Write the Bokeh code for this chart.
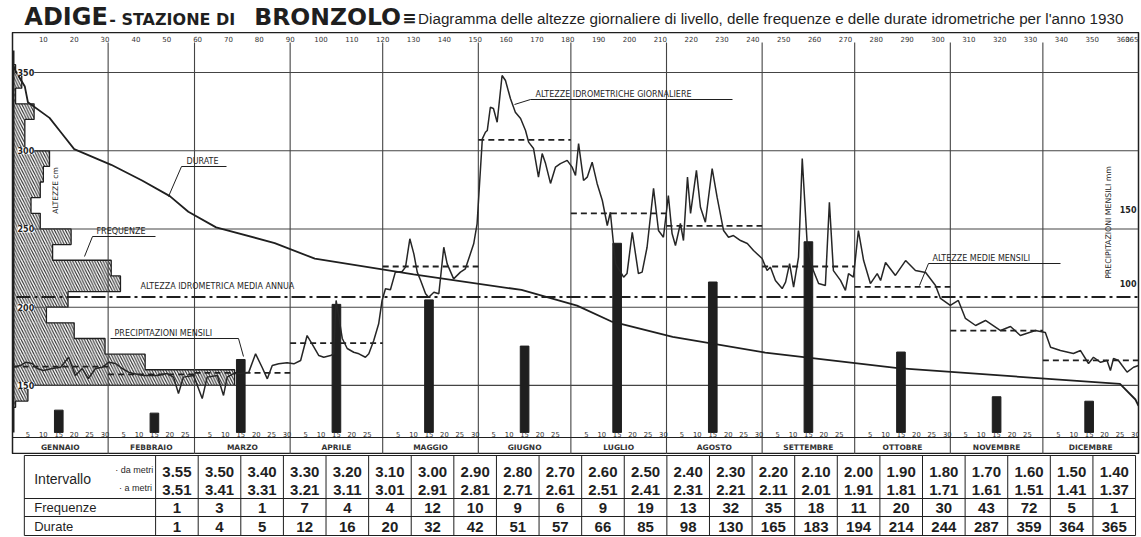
import numpy as np
from bokeh.plotting import figure
from bokeh.models import Range1d
from bokeh.layouts import column
from bokeh.core.properties import value
from bokeh.embed import file_html
from bokeh.resources import INLINE

# ---------------- data ----------------
MONTHS = ["GENNAIO", "FEBBRAIO", "MARZO", "APRILE", "MAGGIO", "GIUGNO",
          "LUGLIO", "AGOSTO", "SETTEMBRE", "OTTOBRE", "NOVEMBRE", "DICEMBRE"]
MONTH_START = [0, 31, 59, 90, 120, 151, 181, 212, 243, 273, 304, 334]
MONTH_LEN = [31, 28, 31, 30, 31, 30, 31, 31, 30, 31, 30, 31]

PRECIP_MM = [15, 13, 49, 86, 89, 58, 127, 101, 128, 54, 24, 21]
MONTH_MEAN_CM = [162, 157, 158, 177, 226, 307, 260, 252, 226, 213, 185, 166]
ANNUAL_MEAN_CM = 206.5

DA_METRI = ["3.55", "3.50", "3.40", "3.30", "3.20", "3.10", "3.00", "2.90", "2.80", "2.70", "2.60", "2.50",
            "2.40", "2.30", "2.20", "2.10", "2.00", "1.90", "1.80", "1.70", "1.60", "1.50", "1.40"]
A_METRI = ["3.51", "3.41", "3.31", "3.21", "3.11", "3.01", "2.91", "2.81", "2.71", "2.61", "2.51", "2.41",
           "2.31", "2.21", "2.11", "2.01", "1.91", "1.81", "1.71", "1.61", "1.51", "1.41", "1.37"]
FREQUENZE = [1, 3, 1, 7, 4, 4, 12, 10, 9, 6, 9, 19, 13, 32, 35, 18, 11, 20, 30, 43, 72, 5, 1]
DURATE = [1, 4, 5, 12, 16, 20, 32, 42, 51, 57, 66, 85, 98, 130, 165, 183, 194, 214, 244, 287, 359, 364, 365]

DAY_PTS = [0, 2.6, 4.2, 6.4, 8, 10, 12.9, 15.6, 18.2, 20.4, 22.6, 24.6, 26.9, 29.1, 31.2, 33.4, 35.6, 37.6, 39.2, 42.5,
           46.9, 50.1, 52.2, 53.8, 55.4, 58.7, 61.5, 63.1, 66.4, 68.4, 69.6, 71.6, 73.9,
           76.6, 78.8, 80.9, 82.6, 84.2, 86.3, 89, 91.2, 93.4, 95.5, 97.1, 99.3, 100.9, 103.1, 104.1, 104.9, 106.9, 108.5,
           110.6, 112.3, 114.4, 115.5, 117.1, 118.7, 119.8, 120.9, 122.5, 124.1, 126.3, 127.4, 128.8, 130.1, 131.2, 132.3,
           133.9, 134.9, 136.6, 138.2, 139.8, 140.9, 143, 145.2, 146.8, 149.5, 150.6,
           151.2, 152.3, 153.3, 153.9, 154.9, 155.9, 157.1, 158.7, 159.8, 161.4, 163, 164.7, 166.3, 167.3, 168.9, 170.5,
           171.7, 172.8, 174.4, 176, 177.6, 179.8, 181.4, 182.5, 183.5, 185.1, 186.3, 187.9, 189.5, 191.2, 192.8, 193.8,
           194.8, 195.5, 198.1, 199.2, 200.9, 202.9, 204.1, 205.7, 207.8, 209.4, 211, 212.6, 213.8, 214.9, 216.5, 217.5,
           218.8, 219.8, 221.7, 223, 224.6, 226.8, 228.4, 230.5, 232.1, 233.7, 236, 238.2, 240.2, 243, 244.6, 245.7,
           247.3, 249.5, 250.6, 251.9, 253.2, 254.8, 256, 257.6, 259.6, 261.3, 263.5, 264.8, 266.1, 268.4, 270, 271,
           272.6, 274.2, 275.9, 278.1, 280.3, 281.4,
           283, 286.2, 289.5, 292.7, 296, 299.2, 300.8, 304, 306.6, 308.9, 312.2, 315.4, 320.3, 323.5, 326.7, 331.6,
           334.8, 336.5, 339.7, 343.9, 346.2, 348.8, 350.4, 352.7, 354.8, 355.9, 356.9, 358.5, 359.7, 361.3, 363.4, 365]
LEVEL_CM = [161.6, 162.7, 164.8, 164, 160.8, 159.5, 160.8, 161.6, 168, 156.3, 160.8, 154.4, 160.8, 161.6, 164.8, 164,
            160.8, 158.5, 157.6, 156.3, 156.3, 157.6, 155.3, 144.8, 155.3, 156.3, 141.6, 155.3, 156.3, 143.6, 155.3,
            157.6, 157.6,
            158.5, 170.2, 161.6, 154.2, 162.7, 163.8, 164.5, 163.8, 165.9, 181.9, 176.6, 169.1, 168, 169.1, 170.2, 204.3,
            180, 173.6, 171.2, 170.2, 168, 170.2, 178.7, 189.4, 204.3, 211.8, 211.1, 222.4, 222.8, 225.6, 243.7, 234.1,
            222.4, 217.1, 208.6, 206.4, 209.6, 208.6, 238.3, 227.7, 218.1, 222.4, 224.5, 240.5, 253.3,
            272.5, 307.6, 311.8, 312.9, 327.8, 327, 318.2, 348.1, 344.9, 333.4, 324.6, 320.6, 312.9, 305.5, 301.4, 283.1,
            298.2, 291.8, 279.1, 289.5, 291.8, 293.8, 289.5, 284.2, 304.6, 281, 283.1, 292.7, 279.1, 268.2, 252.2, 260.7,
            240.7, 227.9, 219.2, 221.5, 247.9, 221.5, 222.4, 238.3, 275.9, 249, 244.7, 271.4, 247.1, 239.4, 253.5, 242.6,
            283.1, 259.9, 287.4, 263.9, 254.3, 288.6, 270.3, 249, 244.7, 245.8, 242.6, 240.7, 236.2, 231.1, 223.4, 225.6,
            217.1, 211.9, 216, 227.9, 212.8, 232, 295, 240.7, 223.4, 215.1, 213.9, 267.1, 223.4, 217.1, 210.7, 221.5,
            219.2, 249, 229.8, 215.1, 221.5, 217.1,
            228.6, 220.3, 229.8, 223.4, 222.2, 213.9, 205.6, 201.1, 204.3, 192.8, 188.3, 191.5, 185.1, 187.7, 181.9,
            185.1, 183.8, 174.4, 172.3, 170.4, 172.3, 164, 168, 164.8, 165.9, 159.5, 167.2, 165.9, 162.7, 158.5, 161.6,
            162.7]

TOP_TICKS = [10, 20, 30, 40, 50, 60, 70, 80, 90, 100, 110, 120, 130, 140, 150, 160, 170, 180, 190, 200,
             210, 220, 230, 240, 250, 260, 270, 280, 290, 300, 310, 320, 330, 340, 350, 360]
LEFT_TICKS = [350, 300, 250, 200, 150]
RIGHT_TICKS = [150, 100]

TITLE_RIVER = "ADIGE"
TITLE_STATION_A = "- STAZIONE DI"
TITLE_STATION_B = "BRONZOLO"
SUBTITLE = "Diagramma delle altezze giornaliere di livello, delle frequenze e delle durate idrometriche per l'anno 1930"

# ---------------- layout helpers (page pixels -> chart coordinates) ----------------
INK = "#1f1f1f"
SANS = "DejaVu Sans"
ARIAL = "Liberation Sans"
PXD = 1126 / 365.0          # pixels per day
PXC = 1.5646                # pixels per cm
PXM = 1.49                  # pixels per mm of rain
W = 1141


def dx(px):
    return (px - 12) / PXD


def lv(py):
    return 350 - (py - 72) / PXC


def mm(py):
    return (432 - py) / PXM


def T(fig, xs, ys, texts, size, font=SANS, align="left", baseline="middle", angle=0.0,
      style="normal", color=INK, **kw):
    fig.text(x=list(xs), y=list(ys), text=list(texts), text_font=value(font), text_font_size=size,
             text_align=align, text_baseline=baseline, angle=angle, text_font_style=style,
             text_color=color, **kw)


# ---------------- header ----------------
h = figure(width=W, height=32, x_range=Range1d(0, W), y_range=Range1d(32, 0),
           x_axis_type=None, y_axis_type=None, toolbar_location=None, output_backend="svg",
           min_border=0)
h.grid.visible = False
h.outline_line_color = None
T(h, [12], [16], [TITLE_RIVER], "24px", style="bold")
T(h, [98], [18.5], [TITLE_STATION_A], "16px", style="bold")
T(h, [245], [16], [TITLE_STATION_B], "23.5px", style="bold")
T(h, [395], [17], ["\u2261"], "17px", style="bold")
T(h, [411], [17.5], [SUBTITLE], "15.2px", font=ARIAL)

# ---------------- main chart ----------------
p = figure(width=W, height=422, x_range=Range1d(0, 365), y_range=Range1d(lv(454), lv(32)),
           x_axis_type=None, y_axis_type=None, toolbar_location=None, output_backend="svg",
           min_border_left=12, min_border_right=3, min_border_top=0, min_border_bottom=0)
p.extra_y_ranges = {"mm": Range1d(mm(454), mm(32))}
p.grid.visible = False
p.outline_line_color = INK
p.outline_line_width = 1.5
p.background_fill_color = "white"

# frequency histogram (hatched, same horizontal scale as days)
tops = [float(v) * 100 for v in DA_METRI]
bots = [float(v) * 100 - 1 for v in A_METRI]
p.quad(left=0, right=FREQUENZE, bottom=bots, top=tops, fill_alpha=0, line_color=None,
       hatch_pattern="left_diagonal_line", hatch_color="#2b2b2b", hatch_scale=5.5, hatch_weight=1.1)
sx, sy = [0], [tops[0]]
for f, t_, b in zip(FREQUENZE, tops, bots):
    sx += [f, f]
    sy += [t_, b]
sx.append(0)
sy.append(bots[-1])
p.line(sx, sy, line_color=INK, line_width=1.3)

# grid
p.segment(x0=dx(28), x1=365, y0=LEFT_TICKS, y1=LEFT_TICKS, line_color="#444", line_width=1.1)
month_ends = [s + l for s, l in zip(MONTH_START, MONTH_LEN)][:-1]
p.segment(x0=month_ends, x1=month_ends, y0=lv(42), y1=lv(454), line_color="#444", line_width=1.1)
p.segment(x0=[0], x1=[365], y0=[lv(437)], y1=[lv(437)], line_color=INK, line_width=1.2)
p.segment(x0=[0], x1=[0], y0=[lv(50)], y1=[lv(432)], line_color=INK, line_width=4)

# annual mean level (dash-dot)
p.segment(x0=[dx(16)], x1=[365], y0=[ANNUAL_MEAN_CM], y1=[ANNUAL_MEAN_CM], line_color=INK,
          line_width=1.8, line_dash="14 4 3 4")

# monthly means (dashed)
p.segment(x0=MONTH_START, x1=[s + l for s, l in zip(MONTH_START, MONTH_LEN)], y0=MONTH_MEAN_CM,
          y1=MONTH_MEAN_CM, line_color=INK, line_width=1.8, line_dash="6 4")

# monthly precipitation bars
p.vbar(x=[s + 15 for s in MONTH_START], top=PRECIP_MM, bottom=0, width=2.8, fill_color=INK,
       line_color=INK, y_range_name="mm")

# duration curve
p.line([0] + DURATE, [float(DA_METRI[0]) * 100] + [float(v) * 100 for v in A_METRI],
       line_color=INK, line_width=1.8)

# daily levels
p.line(DAY_PTS, LEVEL_CM, line_color="#262626", line_width=1.5)

# top day-of-year labels
T(p, TOP_TICKS, [lv(38)] * len(TOP_TICKS), [str(v) for v in TOP_TICKS], "7px", align="center",
  color="#333")
T(p, [365], [lv(38)], ["365"], "7px", align="right", color="#333")

# left level labels
T(p, [dx(17)] * len(LEFT_TICKS), LEFT_TICKS, [str(v) for v in LEFT_TICKS], "8px", style="bold",
  background_fill_color="white")
# right precipitation labels
T(p, [dx(1136)] * len(RIGHT_TICKS), RIGHT_TICKS, [str(v) for v in RIGHT_TICKS], "8px", align="right",
  style="bold", y_range_name="mm")

# rotated axis titles
T(p, [dx(55)], [lv(190)], ["ALTEZZE cm"], "7.5px", align="center", angle=np.pi / 2)
T(p, [dx(1108)], [lv(222)], ["PRECIPITAZIONI MENSILI mm"], "7.8px", align="center", angle=np.pi / 2)

# annotations with leader lines
notes = [
    ("ALTEZZE IDROMETRICHE GIORNALIERE", 535, 94, 530, 732, [(530, 99), (514, 104)]),
    ("DURATE", 186, 161, 181, 226, [(181, 166), (168, 196)]),
    ("FREQUENZE", 96, 231, 92, 155, [(92, 236), (84, 256)]),
    ("PRECIPITAZIONI MENSILI", 114, 333, 110, 238, [(238, 338), (243, 356)]),
    ("ALTEZZE MEDIE MENSILI", 932, 258, 928, 1060, [(928, 263), (919, 285)]),
]
for text, tx, ty, ul0, ul1, lead in notes:
    T(p, [dx(tx)], [lv(ty)], [text], "8px")
    uy = lead[0][1]
    p.segment(x0=[dx(ul0)], x1=[dx(ul1)], y0=[lv(uy)], y1=[lv(uy)], line_color=INK, line_width=1)
    p.segment(x0=[dx(lead[0][0])], x1=[dx(lead[1][0])], y0=[lv(lead[0][1])], y1=[lv(lead[1][1])],
              line_color=INK, line_width=1)
T(p, [dx(140)], [lv(286)], ["ALTEZZA IDROMETRICA MEDIA ANNUA"], "8px")

# bottom strip: day-of-month ticks and month names
dl_x, dl_t = [], []
for s, l in zip(MONTH_START, MONTH_LEN):
    for d in (5, 10, 15, 20, 25, 30):
        if d < l:
            dl_x.append(s + d)
            dl_t.append(str(d))
T(p, dl_x, [lv(434)] * len(dl_x), dl_t, "6.8px", align="center", color="#333")
T(p, [s + l / 2 for s, l in zip(MONTH_START, MONTH_LEN)], [lv(447)] * 12, MONTHS, "7.5px",
  align="center", style="bold", color="#333")

# ---------------- table ----------------
t = figure(width=W, height=82, x_range=Range1d(0, W), y_range=Range1d(536, 454),
           x_axis_type=None, y_axis_type=None, toolbar_location=None, output_backend="svg",
           min_border=0)
t.grid.visible = False
t.outline_line_color = None
cb = list(np.linspace(145, 1138, len(DA_METRI) + 1))
cc = [(a + b) / 2 for a, b in zip(cb[:-1], cb[1:])]
t.segment(x0=[12, 12, 12, 12], x1=[1138] * 4, y0=[455, 498, 516, 535], y1=[455, 498, 516, 535],
          line_color=INK, line_width=1.2)
t.segment(x0=[12] + cb, x1=[12] + cb, y0=455, y1=535, line_color=INK, line_width=1)
T(t, cc, [471] * len(cc), DA_METRI, "15px", font=ARIAL, align="center", style="bold")
T(t, cc, [489] * len(cc), A_METRI, "15px", font=ARIAL, align="center", style="bold")
T(t, cc, [507] * len(cc), [str(v) for v in FREQUENZE], "15px", font=ARIAL, align="center", style="bold")
T(t, cc, [526] * len(cc), [str(v) for v in DURATE], "15px", font=ARIAL, align="center", style="bold")
T(t, [22], [478], ["Intervallo"], "14px", font=ARIAL)
T(t, [104], [469], ["\u00b7 da metri"], "9px", font=ARIAL)
T(t, [108], [487], ["\u00b7 a metri"], "9px", font=ARIAL)
T(t, [22], [507], ["Frequenze"], "13px", font=ARIAL)
T(t, [22], [526], ["Durate"], "13px", font=ARIAL)

layout = column(h, p, t)
open("out.html", "w").write(file_html(layout, INLINE))
